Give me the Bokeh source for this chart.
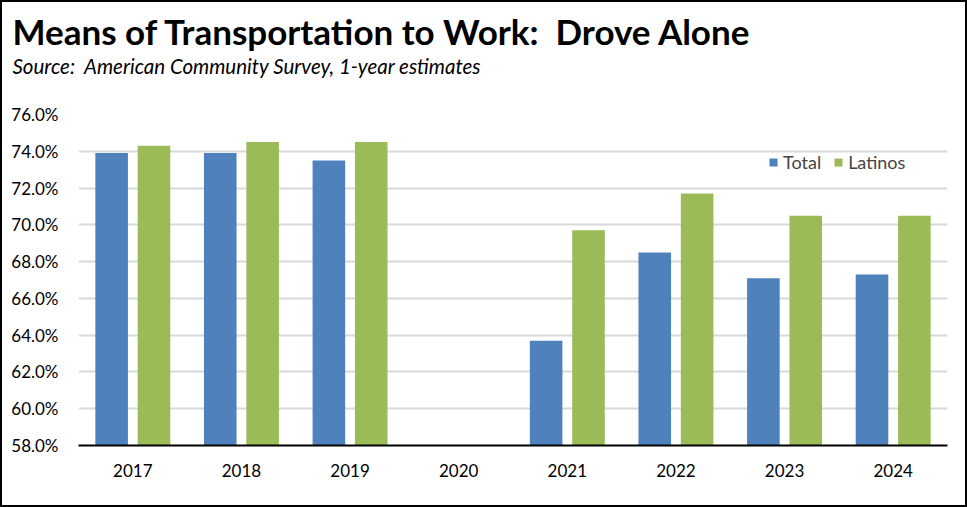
from bokeh.plotting import figure
from bokeh.models import (ColumnDataSource, FactorRange, Range1d, FixedTicker,
                          PrintfTickFormatter, Legend, LegendItem, Title)
from bokeh.transform import dodge
from bokeh.embed import file_html
from bokeh.resources import INLINE

years = ["2017", "2018", "2019", "2020", "2021", "2022", "2023", "2024"]
total = [73.9, 73.9, 73.5, float("nan"), 63.7, 68.5, 67.1, 67.3]
latinos = [74.3, 74.5, 74.5, float("nan"), 69.7, 71.7, 70.5, 70.5]
y_ticks = [58, 60, 62, 64, 66, 68, 70, 72, 74, 76]

BLUE = "#4f81bd"
GREEN = "#9bbb59"
FONT = "Lato"

src = ColumnDataSource(dict(year=years, total=total, latinos=latinos))

p = figure(width=967, height=507, x_range=FactorRange(*years),
           y_range=Range1d(58, 76), output_backend="svg",
           toolbar_location=None, title=None)
p.styles = {"border": "2px solid black"}
p.min_border_left = 76
p.min_border_right = 22
p.min_border_top = 112
p.min_border_bottom = 64
p.outline_line_color = None
p.background_fill_color = "white"
p.border_fill_color = "white"

spacer = Title(text="\u00a0", text_font=FONT, text_font_size="1px",
               standoff=38, text_color="white")
sub = Title(text="Source:\u00a0 American Community Survey, 1-year estimates",
            text_font=FONT, text_font_size="20.5px", text_font_style="italic",
            align="left", offset=-66, text_color="black", standoff=-9)
main = Title(text="Means of Transportation to Work:\u00a0 Drove Alone",
             text_font=FONT, text_font_size="35px", text_font_style="bold",
             align="left", offset=-66, text_color="black")
p.add_layout(spacer, "above")
p.add_layout(sub, "above")
p.add_layout(main, "above")

r1 = p.vbar(x=dodge("year", -0.195, range=p.x_range), top="total", bottom=58,
            width=0.30, source=src, color=BLUE, line_color=None)
r2 = p.vbar(x=dodge("year", 0.195, range=p.x_range), top="latinos", bottom=58,
            width=0.30, source=src, color=GREEN, line_color=None)

p.xgrid.grid_line_color = None
p.ygrid.grid_line_color = "#d9d9d9"
p.ygrid.grid_line_width = 2
p.ygrid.ticker = FixedTicker(ticks=y_ticks)

p.yaxis.ticker = FixedTicker(ticks=y_ticks)
p.yaxis.formatter = PrintfTickFormatter(format="%.1f%%")
p.yaxis.axis_line_color = None
p.yaxis.major_tick_line_color = None
p.yaxis.minor_tick_line_color = None
p.yaxis.major_label_text_font = FONT
p.yaxis.major_label_text_font_size = "17px"
p.yaxis.major_label_text_color = "black"
p.yaxis.major_label_standoff = 14

p.xaxis.axis_line_color = "black"
p.xaxis.axis_line_width = 2
p.xaxis.major_tick_line_color = None
p.xaxis.minor_tick_line_color = None
p.xaxis.major_label_text_font = FONT
p.xaxis.major_label_text_font_size = "17px"
p.xaxis.major_label_text_color = "black"
p.xaxis.major_label_standoff = 12
p.x_range.range_padding = 0
p.x_range.group_padding = 0

legend = Legend(items=[LegendItem(label="Total", renderers=[r1]),
                       LegendItem(label="Latinos", renderers=[r2])],
                orientation="horizontal", location=(690, 272),
                border_line_color=None, background_fill_alpha=0,
                label_text_font=FONT, label_text_font_size="18px",
                glyph_width=10, glyph_height=10, spacing=12,
                label_standoff=5, padding=2, margin=0)
p.add_layout(legend, "center")

open("out.html", "w").write(file_html(p, INLINE))
